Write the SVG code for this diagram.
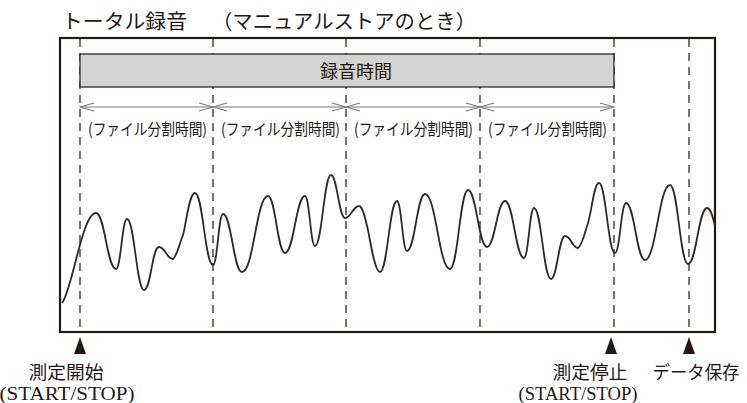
<svg xmlns="http://www.w3.org/2000/svg" width="747" height="403" viewBox="0 0 747 403">
<style>
.jp{font-family:"Noto Sans CJK JP","Noto Sans CJK SC",sans-serif;fill:#231815}
.en{font-family:"Liberation Serif",serif;fill:#231815}
.dash{stroke:#231815;stroke-width:1.2;stroke-dasharray:8,6;fill:none}
.span{stroke:#7a7a7a;stroke-width:1.2;fill:none;marker-start:url(#chev);marker-end:url(#chev)}
.tri{fill:#231815}
.lab{font-size:16px}
</style>
<defs>
<marker id="chev" viewBox="0 0 16 10" refX="15" refY="5" markerWidth="16" markerHeight="10" markerUnits="userSpaceOnUse" orient="auto-start-reverse">
<path d="M1,1 L15,5 L1,9" fill="none" stroke="#7a7a7a" stroke-width="1.2"/>
</marker>
</defs>
<rect width="747" height="403" fill="#ffffff"/>
<g id="title">
<text class="jp" x="62" y="29" font-size="20" textLength="125" lengthAdjust="spacingAndGlyphs">トータル録音</text>
<text class="jp" x="212" y="29" font-size="20" textLength="264" lengthAdjust="spacingAndGlyphs">（マニュアルストアのとき）</text>
</g>
<g id="frame">
<rect x="60" y="38" width="655" height="294" fill="none" stroke="#231815" stroke-width="2.2"/>
</g>
<g id="connectors">
<line class="dash" x1="80" y1="39" x2="80" y2="331"/>
<line class="dash" x1="213" y1="39" x2="213" y2="331"/>
<line class="dash" x1="346" y1="39" x2="346" y2="331"/>
<line class="dash" x1="480" y1="39" x2="480" y2="331"/>
<line class="dash" x1="614" y1="39" x2="614" y2="331"/>
<line class="dash" x1="689" y1="39" x2="689" y2="331"/>
<line class="span" x1="80" y1="107" x2="213" y2="107"/>
<line class="span" x1="213" y1="107" x2="346" y2="107"/>
<line class="span" x1="346" y1="107" x2="480" y2="107"/>
<line class="span" x1="480" y1="107" x2="614" y2="107"/>
</g>
<g id="record-bar">
<rect x="80" y="54" width="534" height="33" fill="#d3d3d3" stroke="#231815" stroke-width="1.2"/>
<text class="jp" x="356" y="78" font-size="18" text-anchor="middle">録音時間</text>
</g>
<g id="split-labels">
<text class="jp lab" x="88" y="135" textLength="119" lengthAdjust="spacingAndGlyphs">(ファイル分割時間)</text>
<text class="jp lab" x="221" y="135" textLength="119" lengthAdjust="spacingAndGlyphs">(ファイル分割時間)</text>
<text class="jp lab" x="354" y="135" textLength="119" lengthAdjust="spacingAndGlyphs">(ファイル分割時間)</text>
<text class="jp lab" x="488" y="135" textLength="119" lengthAdjust="spacingAndGlyphs">(ファイル分割時間)</text>
</g>
<g id="waveform">
<path fill="none" stroke="#2e2a2a" stroke-width="1.8" stroke-linejoin="round" d="M62,303 C72,292 82,213 96,213 C105,213 107,269 116,269 C121,269 122,219 127,219 C134.5,219 136.5,290 144,290 C151,290 152,247 159,247 C165,247 167,259 173,259 C177,256 180,242 183,235 C186,225 189,193 195,193 C203,193 205,265 213,265 C217.5,265 218.5,214 223,214 C231.5,214 233.5,272 242,272 C253.7,272 256.3,196 268,196 C275.6,196 277.4,253 285,253 C294,253 296,196 305,196 C309.5,196 310.5,246 315,246 C322,246 324,175 331,175 C337,175 339,218 345,218 C351,218 353,206 359,206 C363,206 366,222 368,230 C371,245 375,272 380,272 C387.6,272 389.4,201 397,201 C401.5,201 402.5,251 407,251 C415,251 417,194 425,194 C436,194 439,269 450,269 C458,269 460,190 468,190 C476.5,190 478.5,247 487,247 C495,247 497,201 505,201 C513.5,201 515.5,258 524,258 C528.5,258 529.5,208 534,208 C541.6,208 543.4,279 551,279 C557,279 559,236 565,236 C571,236 572,248 578,248 C582,246 585,232 588,223 C592,210 594,183 599,183 C606,183 608,253 615,253 C620,253 621,203 626,203 C634.5,203 636.5,260 645,260 C656,260 659,185 670,185 C678,185 680,264 688,264 C696.5,264 698.5,208 707,208 C711,208 713,218 715,226"/>
</g>
<g id="start-marker">
<polygon class="tri" points="80,337 74,354 86,354"/>
<text class="jp" x="66" y="379" font-size="18.5" text-anchor="middle" textLength="75" lengthAdjust="spacingAndGlyphs">測定開始</text>
<text class="en" x="67" y="400" font-size="19" text-anchor="middle" textLength="135" lengthAdjust="spacingAndGlyphs">(START/STOP)</text>
</g>
<g id="stop-marker">
<polygon class="tri" points="611,337 605,354 617,354"/>
<text class="jp" x="590" y="379" font-size="18.5" text-anchor="middle" textLength="75" lengthAdjust="spacingAndGlyphs">測定停止</text>
<text class="en" x="578" y="400" font-size="19" text-anchor="middle" textLength="119" lengthAdjust="spacingAndGlyphs">(START/STOP)</text>
</g>
<g id="save-marker">
<polygon class="tri" points="689,337 683,354 695,354"/>
<text class="jp" x="696" y="379" font-size="18" text-anchor="middle" textLength="87" lengthAdjust="spacingAndGlyphs">データ保存</text>
</g>
</svg>
